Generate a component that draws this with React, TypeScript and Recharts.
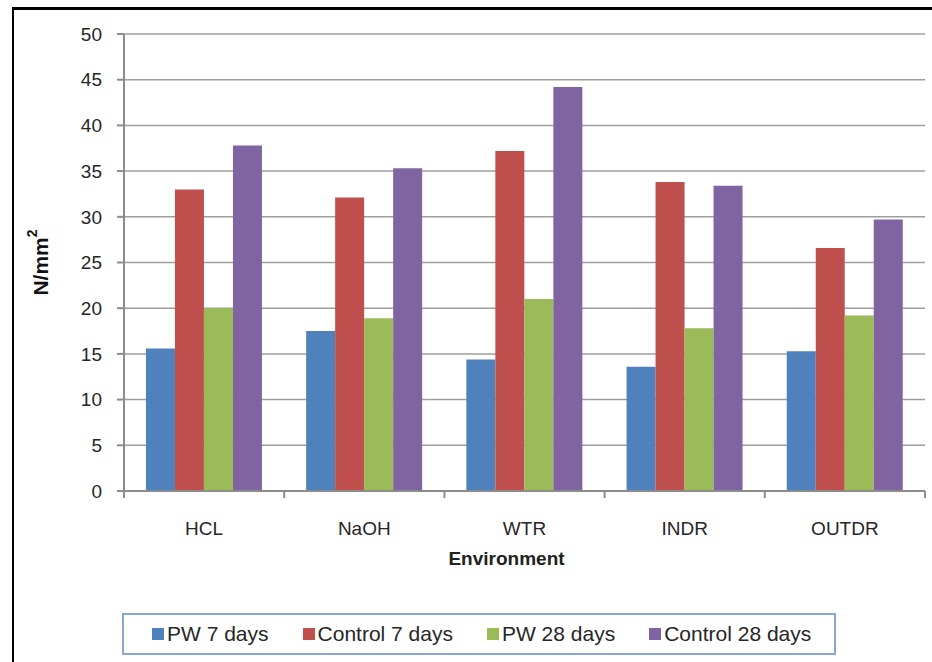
import React from 'react';
import { BarChart, Bar, XAxis, YAxis, CartesianGrid, Legend } from 'recharts';

const categories = ['HCL', 'NaOH', 'WTR', 'INDR', 'OUTDR'];
const pw7 = [15.6, 17.5, 14.4, 13.6, 15.3];
const control7 = [33.0, 32.1, 37.2, 33.8, 26.6];
const pw28 = [20.0, 18.9, 21.0, 17.8, 19.2];
const control28 = [37.8, 35.3, 44.2, 33.4, 29.7];
const yTicks = [0, 5, 10, 15, 20, 25, 30, 35, 40, 45, 50];
const seriesKeys = ['pw7', 'control7', 'pw28', 'control28'];
const seriesNames = ['PW 7 days', 'Control 7 days', 'PW 28 days', 'Control 28 days'];
const seriesColors = ['#4f81bd', '#c0504d', '#9bbb59', '#8064a2'];

const data = categories.map((c, i) => ({
  name: c,
  pw7: pw7[i],
  control7: control7[i],
  pw28: pw28[i],
  control28: control28[i],
}));

const W = 932;
const H = 662;
const MARGIN = { top: 34, right: 7, bottom: 91, left: 0 };
const Y_AXIS_W = 124;
const PLOT_W = W - MARGIN.left - MARGIN.right - Y_AXIS_W;
const STEP = PLOT_W / categories.length;
const FONT = '"Liberation Sans", Arial, sans-serif';
const AXIS_COLOR = '#8c8c8c';
const TEXT_COLOR = '#262626';

const XTick = (props: any) => {
  const { x, y, payload, index } = props;
  const axisY = y - 8;
  return (
    <g>
      <line x1={x - STEP / 2} x2={x - STEP / 2} y1={axisY} y2={axisY + 7} stroke={AXIS_COLOR} strokeWidth={2} />
      {index === categories.length - 1 && (
        <line x1={x + STEP / 2} x2={x + STEP / 2} y1={axisY} y2={axisY + 7} stroke={AXIS_COLOR} strokeWidth={2} />
      )}
      <text x={x} y={y + 36} textAnchor="middle" fontSize={19} fill={TEXT_COLOR} fontFamily={FONT}>
        {payload.value}
      </text>
    </g>
  );
};

const XLabel = (props: any) => {
  const vb = props.viewBox || {};
  const cx = vb.x + vb.width / 2 - 18;
  const cy = vb.y + vb.height - 6;
  return (
    <text x={cx} y={cy} textAnchor="middle" fontSize={19} fontWeight="bold" fill="#222" fontFamily={FONT}>
      Environment
    </text>
  );
};

const YLabel = (props: any) => {
  const vb = props.viewBox || {};
  const cx = vb.x + 40;
  const cy = vb.y + vb.height / 2;
  return (
    <text
      x={cx}
      y={cy}
      transform={`rotate(-90, ${cx}, ${cy})`}
      textAnchor="middle"
      dominantBaseline="central"
      fontSize={21}
      fontWeight="bold"
      fill="#111"
      fontFamily={FONT}
    >
      <tspan>N/mm</tspan>
      <tspan fontSize={14} dy={-8}>2</tspan>
    </text>
  );
};

const LegendContent = () => (
  <div
    style={{
      display: 'flex',
      alignItems: 'center',
      height: '100%',
      paddingLeft: 28,
      boxSizing: 'border-box',
      fontFamily: FONT,
      fontSize: 21,
      color: TEXT_COLOR,
    }}
  >
    {seriesNames.map((n, i) => (
      <div key={n} style={{ display: 'flex', alignItems: 'center', marginRight: i < seriesNames.length - 1 ? 34 : 0 }}>
        <span style={{ display: 'inline-block', width: 12, height: 12, background: seriesColors[i], marginRight: 3 }} />
        <span style={{ whiteSpace: 'nowrap' }}>{n}</span>
      </div>
    ))}
  </div>
);

export default function App() {
  return (
    <div style={{ position: 'absolute', left: 0, top: 0, width: W, height: H, background: '#fff', fontFamily: FONT }}>
      <div
        style={{
          position: 'absolute',
          left: 12,
          top: 7,
          width: W,
          height: H,
          borderLeft: '2px solid #000',
          borderTop: '3px solid #000',
          boxSizing: 'border-box',
        }}
      />
      <BarChart
        width={W}
        height={H}
        data={data}
        margin={MARGIN}
        barCategoryGap="13.7%"
        barGap={0}
      >
        <CartesianGrid vertical={false} stroke="#9e9e9e" strokeWidth={1.5} />
        <XAxis
          dataKey="name"
          height={80}
          axisLine={{ stroke: AXIS_COLOR, strokeWidth: 2 }}
          tickLine={false}
          tick={<XTick />}
          interval={0}
          label={<XLabel />}
        />
        <YAxis
          width={Y_AXIS_W}
          domain={[0, 50]}
          ticks={yTicks}
          interval={0}
          axisLine={{ stroke: AXIS_COLOR, strokeWidth: 2 }}
          tickLine={{ stroke: AXIS_COLOR, strokeWidth: 2 }}
          tickSize={7}
          tickMargin={15}
          tick={{ fontSize: 19, fill: TEXT_COLOR, fontFamily: FONT }}
          label={<YLabel />}
        />
        <Legend
          layout="horizontal"
          verticalAlign="middle"
          align="center"
          content={<LegendContent />}
          wrapperStyle={{
            left: 122,
            top: 613,
            width: 714,
            height: 42,
            border: '2px solid #8aa6d4',
            boxSizing: 'border-box',
            background: '#fff',
          }}
        />
        {seriesKeys.map((k, i) => (
          <Bar key={k} dataKey={k} name={seriesNames[i]} fill={seriesColors[i]} isAnimationActive={false} />
        ))}
      </BarChart>
    </div>
  );
}
